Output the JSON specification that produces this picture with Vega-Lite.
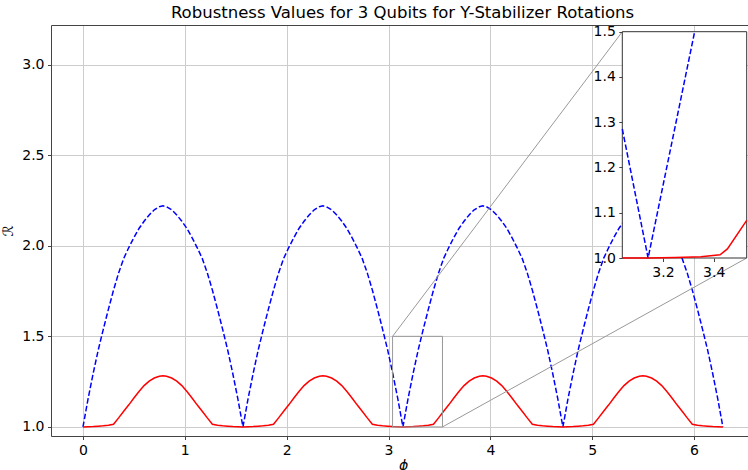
{
  "$schema": "https://vega.github.io/schema/vega-lite/v6.json",
  "width": 697,
  "height": 411,
  "autosize": {"type": "none"},
  "padding": {"left": 51, "top": 25, "right": 0, "bottom": 34},
  "background": "white",
  "config": {
    "view": {"stroke": null},
    "font": "DejaVu Sans",
    "axis": {
      "labelFont": "DejaVu Sans",
      "labelFontSize": 14,
      "labelColor": "#000000",
      "titleFont": "DejaVu Sans",
      "titleFontSize": 14,
      "titleFontWeight": "normal",
      "titleColor": "#000000",
      "tickSize": 3.5,
      "tickColor": "#444444",
      "domainColor": "#444444",
      "labelPadding": 3.5,
      "gridColor": "#cccccc",
      "gridWidth": 1
    }
  },
  "title": {
    "text": "Robustness Values for 3 Qubits for Y-Stabilizer Rotations",
    "font": "DejaVu Sans",
    "fontSize": 16.5,
    "fontWeight": "normal",
    "color": "#000000",
    "anchor": "middle",
    "offset": 3,
    "dx": 3
  },
  "datasets": {
    "curves": [
      {"phi": 0.0, "blue": 1.0, "red": 1.0},
      {"phi": 0.05, "blue": 1.155, "red": 1.001},
      {"phi": 0.1, "blue": 1.295, "red": 1.002},
      {"phi": 0.15, "blue": 1.425, "red": 1.004},
      {"phi": 0.2, "blue": 1.54, "red": 1.006},
      {"phi": 0.25, "blue": 1.65, "red": 1.009},
      {"phi": 0.3, "blue": 1.755, "red": 1.015},
      {"phi": 0.35, "blue": 1.85, "red": 1.05},
      {"phi": 0.4, "blue": 1.93, "red": 1.087},
      {"phi": 0.45, "blue": 1.99, "red": 1.122},
      {"phi": 0.5, "blue": 2.045, "red": 1.16},
      {"phi": 0.55, "blue": 2.095, "red": 1.195},
      {"phi": 0.6, "blue": 2.135, "red": 1.228},
      {"phi": 0.65, "blue": 2.17, "red": 1.253},
      {"phi": 0.7, "blue": 2.198, "red": 1.27},
      {"phi": 0.75, "blue": 2.215, "red": 1.28},
      {"phi": 0.7854, "blue": 2.22, "red": 1.283},
      {"phi": 0.8208, "blue": 2.215, "red": 1.28},
      {"phi": 0.8708, "blue": 2.198, "red": 1.27},
      {"phi": 0.9208, "blue": 2.17, "red": 1.253},
      {"phi": 0.9708, "blue": 2.135, "red": 1.228},
      {"phi": 1.0208, "blue": 2.095, "red": 1.195},
      {"phi": 1.0708, "blue": 2.045, "red": 1.16},
      {"phi": 1.1208, "blue": 1.99, "red": 1.122},
      {"phi": 1.1708, "blue": 1.93, "red": 1.087},
      {"phi": 1.2208, "blue": 1.85, "red": 1.05},
      {"phi": 1.2708, "blue": 1.755, "red": 1.015},
      {"phi": 1.3208, "blue": 1.65, "red": 1.009},
      {"phi": 1.3708, "blue": 1.54, "red": 1.006},
      {"phi": 1.4208, "blue": 1.425, "red": 1.004},
      {"phi": 1.4708, "blue": 1.295, "red": 1.002},
      {"phi": 1.5208, "blue": 1.155, "red": 1.001},
      {"phi": 1.5708, "blue": 1.0, "red": 1.0},
      {"phi": 1.6208, "blue": 1.155, "red": 1.001},
      {"phi": 1.6708, "blue": 1.295, "red": 1.002},
      {"phi": 1.7208, "blue": 1.425, "red": 1.004},
      {"phi": 1.7708, "blue": 1.54, "red": 1.006},
      {"phi": 1.8208, "blue": 1.65, "red": 1.009},
      {"phi": 1.8708, "blue": 1.755, "red": 1.015},
      {"phi": 1.9208, "blue": 1.85, "red": 1.05},
      {"phi": 1.9708, "blue": 1.93, "red": 1.087},
      {"phi": 2.0208, "blue": 1.99, "red": 1.122},
      {"phi": 2.0708, "blue": 2.045, "red": 1.16},
      {"phi": 2.1208, "blue": 2.095, "red": 1.195},
      {"phi": 2.1708, "blue": 2.135, "red": 1.228},
      {"phi": 2.2208, "blue": 2.17, "red": 1.253},
      {"phi": 2.2708, "blue": 2.198, "red": 1.27},
      {"phi": 2.3208, "blue": 2.215, "red": 1.28},
      {"phi": 2.3562, "blue": 2.22, "red": 1.283},
      {"phi": 2.3916, "blue": 2.215, "red": 1.28},
      {"phi": 2.4416, "blue": 2.198, "red": 1.27},
      {"phi": 2.4916, "blue": 2.17, "red": 1.253},
      {"phi": 2.5416, "blue": 2.135, "red": 1.228},
      {"phi": 2.5916, "blue": 2.095, "red": 1.195},
      {"phi": 2.6416, "blue": 2.045, "red": 1.16},
      {"phi": 2.6916, "blue": 1.99, "red": 1.122},
      {"phi": 2.7416, "blue": 1.93, "red": 1.087},
      {"phi": 2.7916, "blue": 1.85, "red": 1.05},
      {"phi": 2.8416, "blue": 1.755, "red": 1.015},
      {"phi": 2.8916, "blue": 1.65, "red": 1.009},
      {"phi": 2.9416, "blue": 1.54, "red": 1.006},
      {"phi": 2.9916, "blue": 1.425, "red": 1.004},
      {"phi": 3.0416, "blue": 1.295, "red": 1.002},
      {"phi": 3.0916, "blue": 1.155, "red": 1.001},
      {"phi": 3.1416, "blue": 1.0, "red": 1.0},
      {"phi": 3.1916, "blue": 1.155, "red": 1.001},
      {"phi": 3.2416, "blue": 1.295, "red": 1.002},
      {"phi": 3.2916, "blue": 1.425, "red": 1.004},
      {"phi": 3.3416, "blue": 1.54, "red": 1.006},
      {"phi": 3.3916, "blue": 1.65, "red": 1.009},
      {"phi": 3.4416, "blue": 1.755, "red": 1.015},
      {"phi": 3.4916, "blue": 1.85, "red": 1.05},
      {"phi": 3.5416, "blue": 1.93, "red": 1.087},
      {"phi": 3.5916, "blue": 1.99, "red": 1.122},
      {"phi": 3.6416, "blue": 2.045, "red": 1.16},
      {"phi": 3.6916, "blue": 2.095, "red": 1.195},
      {"phi": 3.7416, "blue": 2.135, "red": 1.228},
      {"phi": 3.7916, "blue": 2.17, "red": 1.253},
      {"phi": 3.8416, "blue": 2.198, "red": 1.27},
      {"phi": 3.8916, "blue": 2.215, "red": 1.28},
      {"phi": 3.927, "blue": 2.22, "red": 1.283},
      {"phi": 3.9624, "blue": 2.215, "red": 1.28},
      {"phi": 4.0124, "blue": 2.198, "red": 1.27},
      {"phi": 4.0624, "blue": 2.17, "red": 1.253},
      {"phi": 4.1124, "blue": 2.135, "red": 1.228},
      {"phi": 4.1624, "blue": 2.095, "red": 1.195},
      {"phi": 4.2124, "blue": 2.045, "red": 1.16},
      {"phi": 4.2624, "blue": 1.99, "red": 1.122},
      {"phi": 4.3124, "blue": 1.93, "red": 1.087},
      {"phi": 4.3624, "blue": 1.85, "red": 1.05},
      {"phi": 4.4124, "blue": 1.755, "red": 1.015},
      {"phi": 4.4624, "blue": 1.65, "red": 1.009},
      {"phi": 4.5124, "blue": 1.54, "red": 1.006},
      {"phi": 4.5624, "blue": 1.425, "red": 1.004},
      {"phi": 4.6124, "blue": 1.295, "red": 1.002},
      {"phi": 4.6624, "blue": 1.155, "red": 1.001},
      {"phi": 4.7124, "blue": 1.0, "red": 1.0},
      {"phi": 4.7624, "blue": 1.155, "red": 1.001},
      {"phi": 4.8124, "blue": 1.295, "red": 1.002},
      {"phi": 4.8624, "blue": 1.425, "red": 1.004},
      {"phi": 4.9124, "blue": 1.54, "red": 1.006},
      {"phi": 4.9624, "blue": 1.65, "red": 1.009},
      {"phi": 5.0124, "blue": 1.755, "red": 1.015},
      {"phi": 5.0624, "blue": 1.85, "red": 1.05},
      {"phi": 5.1124, "blue": 1.93, "red": 1.087},
      {"phi": 5.1624, "blue": 1.99, "red": 1.122},
      {"phi": 5.2124, "blue": 2.045, "red": 1.16},
      {"phi": 5.2624, "blue": 2.095, "red": 1.195},
      {"phi": 5.3124, "blue": 2.135, "red": 1.228},
      {"phi": 5.3624, "blue": 2.17, "red": 1.253},
      {"phi": 5.4124, "blue": 2.198, "red": 1.27},
      {"phi": 5.4624, "blue": 2.215, "red": 1.28},
      {"phi": 5.4978, "blue": 2.22, "red": 1.283},
      {"phi": 5.5332, "blue": 2.215, "red": 1.28},
      {"phi": 5.5832, "blue": 2.198, "red": 1.27},
      {"phi": 5.6332, "blue": 2.17, "red": 1.253},
      {"phi": 5.6832, "blue": 2.135, "red": 1.228},
      {"phi": 5.7332, "blue": 2.095, "red": 1.195},
      {"phi": 5.7832, "blue": 2.045, "red": 1.16},
      {"phi": 5.8332, "blue": 1.99, "red": 1.122},
      {"phi": 5.8832, "blue": 1.93, "red": 1.087},
      {"phi": 5.9332, "blue": 1.85, "red": 1.05},
      {"phi": 5.9832, "blue": 1.755, "red": 1.015},
      {"phi": 6.0332, "blue": 1.65, "red": 1.009},
      {"phi": 6.0832, "blue": 1.54, "red": 1.006},
      {"phi": 6.1332, "blue": 1.425, "red": 1.004},
      {"phi": 6.1832, "blue": 1.295, "red": 1.002},
      {"phi": 6.2332, "blue": 1.155, "red": 1.001},
      {"phi": 6.2832, "blue": 1.0, "red": 1.0}
    ],
    "insetBlue": [
      {"phi": 3.04, "R": 1.285},
      {"phi": 3.1416, "R": 1.0},
      {"phi": 3.325, "R": 1.5}
    ],
    "insetRed": [
      {"phi": 3.04, "R": 1.0},
      {"phi": 3.1416, "R": 1.0},
      {"phi": 3.25, "R": 1.001},
      {"phi": 3.35, "R": 1.003},
      {"phi": 3.425, "R": 1.007},
      {"phi": 3.454, "R": 1.02},
      {"phi": 3.53, "R": 1.083}
    ],
    "box": [{"x1": 3.04, "x2": 3.53, "y1": 1.0, "y2": 1.5}],
    "connectors": [
      {"x1": 3.04, "y1": 1.5, "x2": 5.296, "y2": 3.181},
      {"x1": 3.53, "y1": 1.0, "x2": 6.517, "y2": 1.932}
    ]
  },
  "layer": [
    {
      "resolve": {"axis": {"x": "independent", "y": "independent"}},
      "layer": [
        {
          "data": {"name": "curves"},
          "mark": {"type": "line", "color": "#0000ff", "strokeWidth": 1.5, "strokeDash": [5.5, 2.4]},
          "encoding": {
            "x": {
              "field": "phi", "type": "quantitative",
              "scale": {"domain": [-0.314, 6.53], "nice": false, "zero": false},
              "axis": {"orient": "bottom", "values": [0, 1, 2, 3, 4, 5, 6], "format": "d", "grid": true, "title": "ϕ", "titleFontStyle": "italic", "titleX": 352, "titlePadding": 1}
            },
            "y": {
              "field": "blue", "type": "quantitative",
              "scale": {"domain": [0.95, 3.218], "nice": false, "zero": false},
              "axis": {"orient": "left", "values": [1.0, 1.5, 2.0, 2.5, 3.0], "format": ".1f", "grid": true, "title": "ℛ", "titlePadding": 6}
            }
          }
        },
        {
          "data": {"name": "curves"},
          "mark": {"type": "line", "color": "#ff0000", "strokeWidth": 1.5},
          "encoding": {
            "x": {
              "field": "phi", "type": "quantitative",
              "scale": {"domain": [-0.314, 6.53], "nice": false, "zero": false},
              "axis": {"orient": "top", "labels": false, "ticks": false, "grid": false, "title": null, "domain": true}
            },
            "y": {
              "field": "red", "type": "quantitative",
              "scale": {"domain": [0.95, 3.218], "nice": false, "zero": false},
              "axis": null
            }
          }
        },
        {
          "data": {"name": "box"},
          "mark": {"type": "rect", "fill": null, "fillOpacity": 0, "stroke": "#999999", "strokeWidth": 1},
          "encoding": {
            "x": {"field": "x1", "type": "quantitative", "scale": {"domain": [-0.314, 6.53], "nice": false, "zero": false}, "axis": null},
            "x2": {"field": "x2"},
            "y": {"field": "y1", "type": "quantitative", "scale": {"domain": [0.95, 3.218], "nice": false, "zero": false}, "axis": null},
            "y2": {"field": "y2"}
          }
        },
        {
          "data": {"name": "connectors"},
          "mark": {"type": "rule", "color": "#999999", "strokeWidth": 1},
          "encoding": {
            "x": {"field": "x1", "type": "quantitative", "scale": {"domain": [-0.314, 6.53], "nice": false, "zero": false}, "axis": null},
            "x2": {"field": "x2"},
            "y": {"field": "y1", "type": "quantitative", "scale": {"domain": [0.95, 3.218], "nice": false, "zero": false}, "axis": null},
            "y2": {"field": "y2"}
          }
        }
      ]
    },
    {
      "resolve": {"axis": {"x": "independent", "y": "independent"}},
      "layer": [
        {
          "data": {"name": "box"},
          "mark": {"type": "rect", "fill": "#ffffff", "stroke": "#333333", "strokeWidth": 1},
          "encoding": {
            "x": {
              "field": "x1", "type": "quantitative",
              "scale": {"domain": [3.04, 3.53], "range": [571.3, 695.7], "nice": false, "zero": false},
              "axis": {"orient": "bottom", "offset": -178, "values": [3.2, 3.4], "format": ".1f", "grid": false, "domain": false, "title": null, "zindex": 1}
            },
            "x2": {"field": "x2"},
            "y": {
              "field": "y1", "type": "quantitative",
              "scale": {"domain": [1.0, 1.5], "range": [233, 6.7], "nice": false, "zero": false},
              "axis": {"orient": "left", "offset": -571.3, "values": [1.0, 1.1, 1.2, 1.3, 1.4, 1.5], "format": ".1f", "grid": false, "domain": false, "title": null, "zindex": 1}
            },
            "y2": {"field": "y2"}
          }
        },
        {
          "data": {"name": "insetBlue"},
          "mark": {"type": "line", "color": "#0000ff", "strokeWidth": 1.5, "strokeDash": [5.5, 2.4]},
          "encoding": {
            "x": {"field": "phi", "type": "quantitative", "scale": {"domain": [3.04, 3.53], "range": [571.3, 695.7], "nice": false, "zero": false}, "axis": null},
            "y": {"field": "R", "type": "quantitative", "scale": {"domain": [1.0, 1.5], "range": [233, 6.7], "nice": false, "zero": false}, "axis": null}
          }
        },
        {
          "data": {"name": "insetRed"},
          "mark": {"type": "line", "color": "#ff0000", "strokeWidth": 1.5},
          "encoding": {
            "x": {"field": "phi", "type": "quantitative", "scale": {"domain": [3.04, 3.53], "range": [571.3, 695.7], "nice": false, "zero": false}, "axis": null},
            "y": {"field": "R", "type": "quantitative", "scale": {"domain": [1.0, 1.5], "range": [233, 6.7], "nice": false, "zero": false}, "axis": null}
          }
        }
      ]
    }
  ],
  "resolve": {
    "scale": {"x": "independent", "y": "independent"},
    "axis": {"x": "independent", "y": "independent"}
  }
}
